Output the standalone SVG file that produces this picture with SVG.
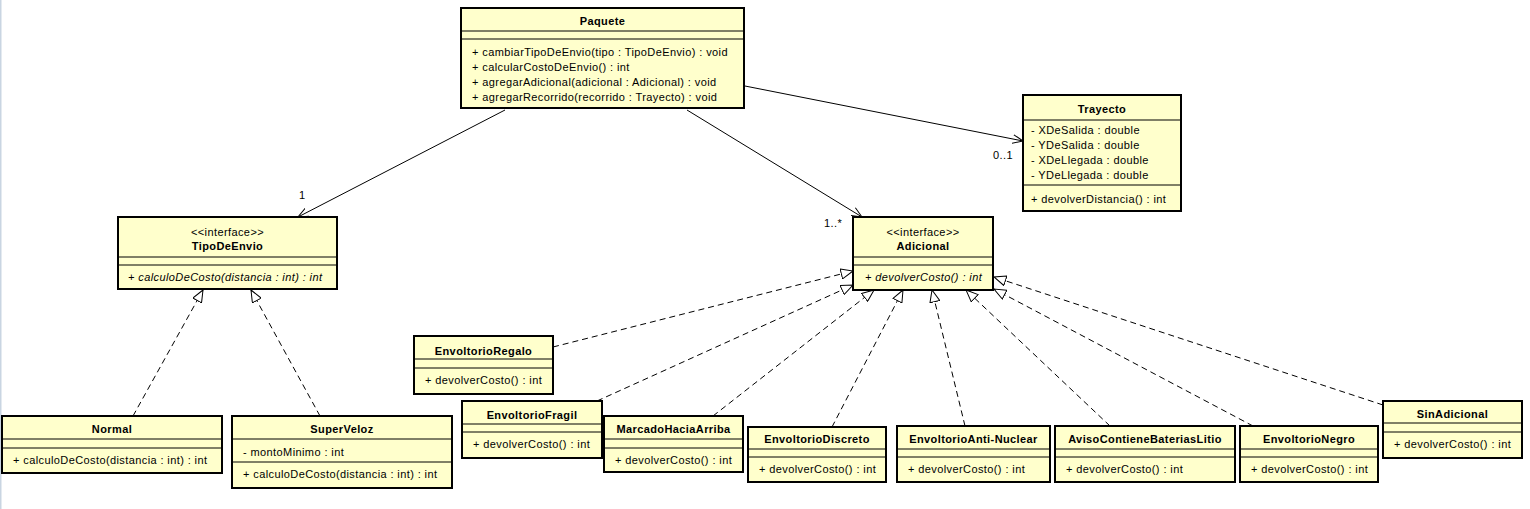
<svg xmlns="http://www.w3.org/2000/svg" width="1530" height="509" viewBox="0 0 1530 509">
<style>
.box{fill:#FFFFCC;stroke:#000;stroke-width:2}
.sep{stroke:#000;stroke-width:1}
.t{font-family:"Liberation Sans",Arial,sans-serif;font-size:11px;letter-spacing:0.4px;fill:#000}
.c{text-anchor:middle}
.b{font-weight:bold;text-anchor:middle}
.i{font-style:italic}
.assoc{stroke:#000;stroke-width:1;fill:none}
.real{stroke:#000;stroke-width:1;stroke-dasharray:6,4;fill:none}
</style>
<defs>
<marker id="open" viewBox="0 0 11 10" refX="10.5" refY="5" markerWidth="11" markerHeight="10" markerUnits="userSpaceOnUse" orient="auto">
<path d="M0,0.5 L10.5,5 L0,9.5" fill="none" stroke="#000" stroke-width="1" stroke-dasharray="none"/>
</marker>
<marker id="tri" viewBox="0 0 13 11" refX="12.5" refY="5.5" markerWidth="13" markerHeight="11" markerUnits="userSpaceOnUse" orient="auto">
<path d="M0.5,0.5 L12.5,5.5 L0.5,10.5 Z" fill="#fff" stroke="#000" stroke-width="1" stroke-dasharray="none"/>
</marker>
</defs>
<rect x="0" y="0" width="1530" height="509" fill="#fff"/>
<rect x="0" y="0" width="1.5" height="509" fill="#c9d5e2"/>

<g id="connectors">
<line class="assoc" x1="505" y1="110" x2="298" y2="217" marker-end="url(#open)"/>
<line class="assoc" x1="687" y1="110" x2="862" y2="217" marker-end="url(#open)"/>
<line class="assoc" x1="745" y1="86" x2="1023" y2="141" marker-end="url(#open)"/>
<text class="t" x="299" y="199">1</text>
<text class="t" x="824" y="227">1..*</text>
<text class="t" x="993" y="159">0..1</text>
<line class="real" x1="133" y1="416" x2="203" y2="290" marker-end="url(#tri)"/>
<line class="real" x1="320" y1="416" x2="251" y2="290" marker-end="url(#tri)"/>
<line class="real" x1="553" y1="347" x2="853" y2="271" marker-end="url(#tri)"/>
<line class="real" x1="597" y1="401" x2="853" y2="285" marker-end="url(#tri)"/>
<line class="real" x1="713" y1="416" x2="874" y2="290" marker-end="url(#tri)"/>
<line class="real" x1="832" y1="427" x2="903" y2="290" marker-end="url(#tri)"/>
<line class="real" x1="965" y1="426" x2="932" y2="290" marker-end="url(#tri)"/>
<line class="real" x1="1110" y1="426" x2="966" y2="290" marker-end="url(#tri)"/>
<line class="real" x1="1253" y1="426" x2="994" y2="289" marker-end="url(#tri)"/>
<line class="real" x1="1383" y1="405" x2="994" y2="277" marker-end="url(#tri)"/>
</g>

<g id="Paquete">
<rect class="box" x="461" y="8" width="283" height="100"/>
<text class="t b" x="602.5" y="25">Paquete</text>
<line class="sep" x1="461" y1="31" x2="744" y2="31"/>
<line class="sep" x1="461" y1="39" x2="744" y2="39"/>
<text class="t" x="472" y="56">+ cambiarTipoDeEnvio(tipo : TipoDeEnvio) : void</text>
<text class="t" x="472" y="71">+ calcularCostoDeEnvio() : int</text>
<text class="t" x="472" y="86">+ agregarAdicional(adicional : Adicional) : void</text>
<text class="t" x="472" y="101">+ agregarRecorrido(recorrido : Trayecto) : void</text>
</g>

<g id="Trayecto">
<rect class="box" x="1023" y="95" width="158" height="116"/>
<text class="t b" x="1102" y="113">Trayecto</text>
<line class="sep" x1="1023" y1="120" x2="1181" y2="120"/>
<text class="t" x="1031" y="134">- XDeSalida : double</text>
<text class="t" x="1031" y="149">- YDeSalida : double</text>
<text class="t" x="1031" y="164">- XDeLlegada : double</text>
<text class="t" x="1031" y="179">- YDeLlegada : double</text>
<line class="sep" x1="1023" y1="185" x2="1181" y2="185"/>
<text class="t" x="1031" y="203">+ devolverDistancia() : int</text>
</g>

<g id="TipoDeEnvio">
<rect class="box" x="118" y="217" width="219" height="72"/>
<text class="t c" x="227.5" y="236">&lt;&lt;interface&gt;&gt;</text>
<text class="t b" x="227.5" y="250">TipoDeEnvio</text>
<line class="sep" x1="118" y1="257" x2="337" y2="257"/>
<line class="sep" x1="118" y1="265" x2="337" y2="265"/>
<text class="t i" x="128" y="281">+ calculoDeCosto(distancia : int) : int</text>
</g>

<g id="Adicional">
<rect class="box" x="853" y="217" width="140" height="73"/>
<text class="t c" x="923" y="236">&lt;&lt;interface&gt;&gt;</text>
<text class="t b" x="923" y="250">Adicional</text>
<line class="sep" x1="853" y1="257" x2="993" y2="257"/>
<line class="sep" x1="853" y1="265" x2="993" y2="265"/>
<text class="t i" x="865" y="281">+ devolverCosto() : int</text>
</g>

<g id="Normal">
<rect class="box" x="2" y="416" width="220" height="57"/>
<text class="t b" x="112" y="433">Normal</text>
<line class="sep" x1="2" y1="439" x2="222" y2="439"/>
<line class="sep" x1="2" y1="448" x2="222" y2="448"/>
<text class="t" x="13" y="464">+ calculoDeCosto(distancia : int) : int</text>
</g>

<g id="SuperVeloz">
<rect class="box" x="232" y="416" width="220" height="72"/>
<text class="t b" x="342" y="433">SuperVeloz</text>
<line class="sep" x1="232" y1="439" x2="452" y2="439"/>
<text class="t" x="243" y="456">- montoMinimo : int</text>
<line class="sep" x1="232" y1="462" x2="452" y2="462"/>
<text class="t" x="243" y="478">+ calculoDeCosto(distancia : int) : int</text>
</g>

<g id="EnvoltorioRegalo">
<rect class="box" x="414" y="336" width="139" height="58"/>
<text class="t b" x="483.5" y="355">EnvoltorioRegalo</text>
<line class="sep" x1="414" y1="359" x2="553" y2="359"/>
<line class="sep" x1="414" y1="368" x2="553" y2="368"/>
<text class="t" x="425" y="384">+ devolverCosto() : int</text>
</g>

<g id="EnvoltorioFragil">
<rect class="box" x="462" y="401" width="140" height="57"/>
<text class="t b" x="532" y="419">EnvoltorioFragil</text>
<line class="sep" x1="462" y1="424" x2="602" y2="424"/>
<line class="sep" x1="462" y1="432" x2="602" y2="432"/>
<text class="t" x="473" y="448">+ devolverCosto() : int</text>
</g>

<g id="MarcadoHaciaArriba">
<rect class="box" x="604" y="416" width="139" height="56"/>
<text class="t b" x="673.5" y="433">MarcadoHaciaArriba</text>
<line class="sep" x1="604" y1="439" x2="743" y2="439"/>
<line class="sep" x1="604" y1="448" x2="743" y2="448"/>
<text class="t" x="615" y="464">+ devolverCosto() : int</text>
</g>

<g id="EnvoltorioDiscreto">
<rect class="box" x="748" y="427" width="138" height="55"/>
<text class="t b" x="817" y="443">EnvoltorioDiscreto</text>
<line class="sep" x1="748" y1="449" x2="886" y2="449"/>
<line class="sep" x1="748" y1="457" x2="886" y2="457"/>
<text class="t" x="759" y="473">+ devolverCosto() : int</text>
</g>

<g id="EnvoltorioAntiNuclear">
<rect class="box" x="897" y="426" width="153" height="56"/>
<text class="t b" x="973.5" y="443">EnvoltorioAnti-Nuclear</text>
<line class="sep" x1="897" y1="449" x2="1050" y2="449"/>
<line class="sep" x1="897" y1="457" x2="1050" y2="457"/>
<text class="t" x="908" y="473">+ devolverCosto() : int</text>
</g>

<g id="AvisoContieneBateriasLitio">
<rect class="box" x="1055" y="426" width="180" height="56"/>
<text class="t b" x="1145" y="443">AvisoContieneBateriasLitio</text>
<line class="sep" x1="1055" y1="449" x2="1235" y2="449"/>
<line class="sep" x1="1055" y1="457" x2="1235" y2="457"/>
<text class="t" x="1066" y="473">+ devolverCosto() : int</text>
</g>

<g id="EnvoltorioNegro">
<rect class="box" x="1240" y="426" width="138" height="56"/>
<text class="t b" x="1309" y="443">EnvoltorioNegro</text>
<line class="sep" x1="1240" y1="449" x2="1378" y2="449"/>
<line class="sep" x1="1240" y1="457" x2="1378" y2="457"/>
<text class="t" x="1251" y="473">+ devolverCosto() : int</text>
</g>

<g id="SinAdicional">
<rect class="box" x="1383" y="401" width="139" height="57"/>
<text class="t b" x="1452.5" y="418">SinAdicional</text>
<line class="sep" x1="1383" y1="423" x2="1522" y2="423"/>
<line class="sep" x1="1383" y1="432" x2="1522" y2="432"/>
<text class="t" x="1394" y="448">+ devolverCosto() : int</text>
</g>
</svg>
